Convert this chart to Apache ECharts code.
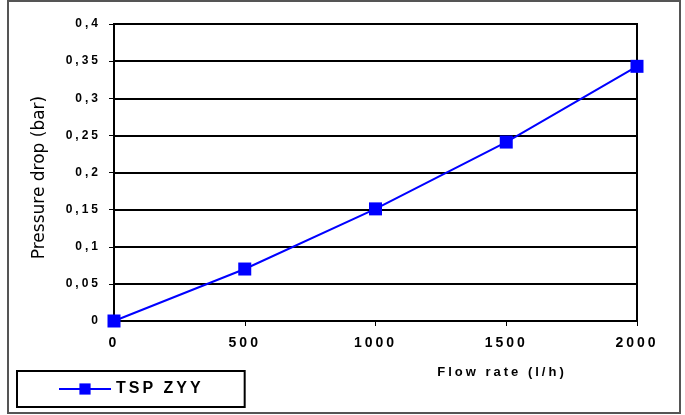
<!DOCTYPE html>
<html>
<head>
<meta charset="utf-8">
<script src="https://cdn.jsdelivr.net/npm/echarts@6/dist/echarts.min.js"></script>
<style>
  html, body { margin: 0; padding: 0; background: #fff; }
  #chart { width: 685px; height: 415px; }
</style>
</head>
<body>
<div id="chart"></div>
<script>
// data
var flowRate = [0, 500, 1000, 1500, 2000];
var pressureDrop = [0, 0.07, 0.151, 0.241, 0.343];
var seriesName = 'TSP ZYY';

// the original's bold labels are widely spaced; zrender has no letter spacing option
var origFillText = CanvasRenderingContext2D.prototype.fillText;
CanvasRenderingContext2D.prototype.fillText = function () {
  var f = this.font;
  this.letterSpacing = f.indexOf('bold') >= 0 ? '3px' : '0px';
  this.font = f;
  return origFillText.apply(this, arguments);
};

function comma(v) {
  return String(parseFloat(v.toFixed(2))).replace('.', ',');
}

var points = flowRate.map(function (x, i) { return [x, pressureDrop[i]]; });

var option = {
  backgroundColor: '#fff',
  animation: false,
  textStyle: { fontFamily: 'Liberation Sans', color: '#000' },
  grid: {
    left: 114, right: 48, top: 24, bottom: 94,
    show: true, borderColor: '#000', borderWidth: 2
  },
  graphic: [{
    type: 'rect',
    shape: { x: 8, y: 1, width: 672, height: 412 },
    style: { fill: null, stroke: '#555', lineWidth: 2 },
    silent: true
  }],
  legend: {
    left: 17, top: 371,
    orient: 'horizontal',
    padding: [10, 62, 10, 41],
    borderColor: '#000', borderWidth: 2,
    itemWidth: 52, itemHeight: 14,
    textStyle: { fontSize: 16, fontWeight: 'bold', color: '#000', fontFamily: 'Liberation Sans' },
    data: [seriesName]
  },
  xAxis: {
    type: 'value',
    min: 0, max: 2000, interval: 500,
    name: 'Flow rate (l/h)',
    nameLocation: 'middle',
    nameGap: 45,
    nameTextStyle: { fontSize: 13, fontWeight: 'bold', color: '#000', padding: [0, 0, 0, 253] },
    axisLine: { lineStyle: { color: '#000', width: 2 } },
    axisTick: { show: true, length: 5, lineStyle: { color: '#000' } },
    axisLabel: {
      fontSize: 14, fontWeight: 'bold', color: '#000', margin: 15,
      formatter: function (v) { return String(v); }
    },
    splitLine: { show: false }
  },
  yAxis: {
    type: 'value',
    min: 0, max: 0.4, interval: 0.05,
    name: 'Pressure drop (bar)',
    nameLocation: 'middle',
    nameGap: 66,
    nameTextStyle: { fontSize: 17, color: '#000', fontFamily: 'DejaVu Sans', padding: [0, 10, 0, 0] },
    axisLine: { show: true, lineStyle: { color: '#000', width: 2 } },
    axisTick: { show: true, length: 5, lineStyle: { color: '#000' } },
    axisLabel: { fontSize: 12, fontWeight: 'bold', color: '#000', margin: 13, formatter: comma },
    splitLine: { show: true, lineStyle: { color: '#000', width: 2 } }
  },
  series: [{
    name: seriesName,
    type: 'line',
    data: points,
    symbol: 'rect',
    symbolSize: 13,
    itemStyle: { color: '#0000ff' },
    lineStyle: { color: '#0000ff', width: 2 }
  }]
};

echarts.init(document.getElementById('chart')).setOption(option);
</script>
</body>
</html>
